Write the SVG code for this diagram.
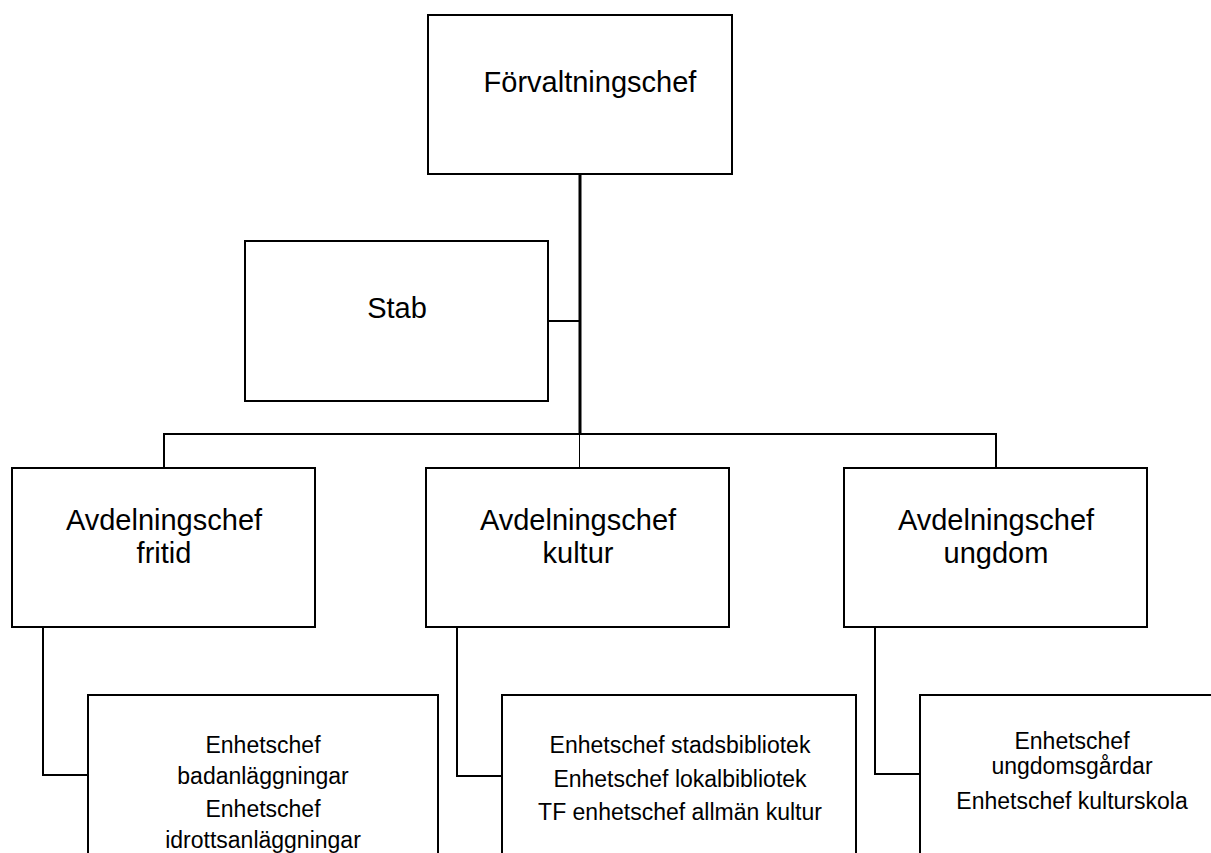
<svg xmlns="http://www.w3.org/2000/svg" width="1211" height="853" viewBox="0 0 1211 853">
<style>
.box{fill:#fff;stroke:#000;stroke-width:2}
.conn{fill:none;stroke:#000;stroke-width:2}
.big{font-family:"Liberation Sans",Arial,sans-serif;font-size:29px;fill:#000;text-anchor:middle}
.small{font-family:"Liberation Sans",Arial,sans-serif;font-size:23px;fill:#000;text-anchor:middle}
</style>
<rect width="1211" height="853" fill="#fff"/>
<g id="connectors">
<line x1="580" y1="174" x2="580" y2="434" stroke="#000" stroke-width="3"/>
<line x1="579.5" y1="434" x2="579.5" y2="468" stroke="#000" stroke-width="1"/>
<line class="conn" x1="548" y1="321" x2="580" y2="321"/>
<polyline class="conn" points="164,468 164,434 996,434 996,468"/>
<polyline class="conn" points="43,627 43,775 88,775"/>
<polyline class="conn" points="457,627 457,776 502,776"/>
<polyline class="conn" points="875,627 875,774 920,774"/>
</g>
<g id="forvaltningschef">
<rect class="box" x="428" y="15" width="304" height="159"/>
<text class="big" x="590" y="92">Förvaltningschef</text>
</g>
<g id="stab">
<rect class="box" x="245" y="241" width="303" height="160"/>
<text class="big" x="397" y="318">Stab</text>
</g>
<g id="avd-fritid">
<rect class="box" x="12" y="468" width="303" height="159"/>
<text class="big" x="164" y="530">Avdelningschef</text>
<text class="big" x="164" y="563">fritid</text>
</g>
<g id="avd-kultur">
<rect class="box" x="426" y="468" width="303" height="159"/>
<text class="big" x="578" y="530">Avdelningschef</text>
<text class="big" x="578" y="563">kultur</text>
</g>
<g id="avd-ungdom">
<rect class="box" x="844" y="468" width="303" height="159"/>
<text class="big" x="996" y="530">Avdelningschef</text>
<text class="big" x="996" y="563">ungdom</text>
</g>
<g id="enh-fritid">
<rect class="box" x="88" y="695" width="350" height="180"/>
<text class="small" x="263" y="753">Enhetschef</text>
<text class="small" x="263" y="784">badanläggningar</text>
<text class="small" x="263" y="817">Enhetschef</text>
<text class="small" x="263" y="848">idrottsanläggningar</text>
</g>
<g id="enh-kultur">
<rect class="box" x="502" y="695" width="354" height="180"/>
<text class="small" x="680" y="753">Enhetschef stadsbibliotek</text>
<text class="small" x="680" y="787">Enhetschef lokalbibliotek</text>
<text class="small" x="680" y="820">TF enhetschef allmän kultur</text>
</g>
<g id="enh-ungdom">
<rect class="box" x="920" y="695" width="320" height="180"/>
<text class="small" x="1072" y="749">Enhetschef</text>
<text class="small" x="1072" y="774">ungdomsgårdar</text>
<text class="small" x="1072" y="809">Enhetschef kulturskola</text>
</g>
</svg>
